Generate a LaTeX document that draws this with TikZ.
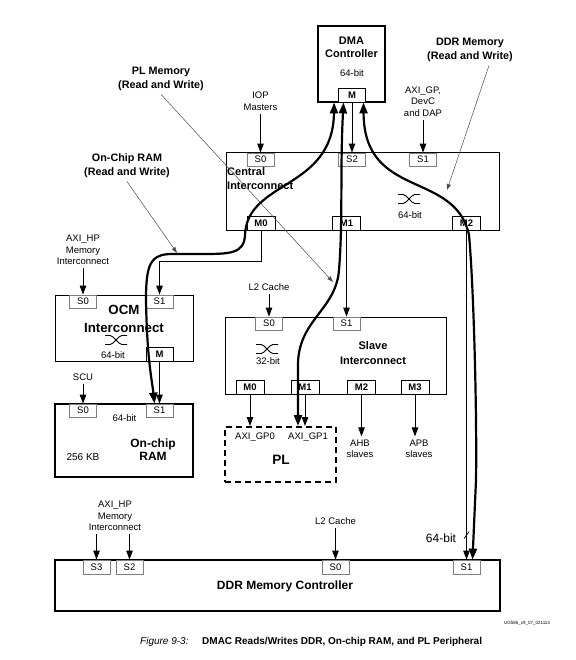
\documentclass[tikz,border=0pt]{standalone}
\usepackage{fontspec}
\setmainfont{Liberation Sans}
\usepackage{tikz}
\usetikzlibrary{positioning, arrows.meta, shapes, calc}

\tikzset{crossbar/.pic={
    \draw[line width=0.9pt] (-11,-4.5) -- (-6,-4.5) .. controls (-2,-4.5) and (2,4.5) .. (6,4.5) -- (11,4.5)
        (-11,4.5) -- (-6,4.5) .. controls (-2,4.5) and (2,-4.5) .. (6,-4.5) -- (11,-4.5);
}}

\begin{document}
\begin{tikzpicture}[x=1pt, y=-1pt, font=\fontsize{9.5}{11.5}\selectfont]
    \useasboundingbox (0,0) rectangle (575,660);
    % Define styles
    \tikzstyle{block} = [rectangle, draw, line width=1pt, inner sep=0pt]
    \tikzstyle{mainblock} = [block, line width=2pt]
    \tikzstyle{sport} = [rectangle, draw=gray, fill=white, line width=0.8pt, minimum width=27pt, minimum height=13pt, inner sep=0pt]
    \tikzstyle{mport} = [sport, draw=black, minimum height=14pt, font=\bfseries\fontsize{9.5}{11}\selectfont]
    \tikzstyle{note} = [align=center]
    \tikzstyle{heading} = [align=center, font=\bfseries\fontsize{11}{14}\selectfont]
    \tikzstyle{arrow} = [line width=0.9pt, -{Triangle[length=9pt,width=6.5pt]}]
    \tikzstyle{dmaline} = [line width=2.2pt, {Triangle[length=11pt,width=8pt]}-{Triangle[length=11pt,width=8pt]}]
    \tikzstyle{leader} = [line width=0.5pt, black!70, -{Triangle[length=6pt,width=4pt]}]

    % Blocks
    \node [mainblock, minimum width=67pt, minimum height=76pt] (dma) at (351.5,64) {};
    \node [block, minimum width=273pt, minimum height=77pt] (ci) at (362.5,191.5) {};
    \node [block, minimum width=138pt, minimum height=66pt] (ocm) at (124,328) {};
    \node [mainblock, minimum width=138pt, minimum height=73pt] (ram) at (124,440.5) {};
    \node [block, minimum width=221pt, minimum height=77pt] (slave) at (335.5,355.5) {};
    \node [mainblock, dash pattern=on 6pt off 4pt, minimum width=111pt, minimum height=55pt] (pl) at (280.5,454.5) {};
    \node [mainblock, minimum width=445pt, minimum height=51pt] (ddr) at (277.5,585.5) {};

    % Ports
    \node [mport] (dmam) at (352,95) {M};
    \node [sport] (cis0) at (260.5,159.5) {S0};
    \node [sport] (cis2) at (352,159.5) {S2};
    \node [sport] (cis1) at (423,159.5) {S1};
    \node [mport, minimum width=28pt] (cim0) at (261,223) {M0};
    \node [mport, minimum width=28pt] (cim1) at (346.5,223) {M1};
    \node [mport, minimum width=28pt] (cim2) at (466.5,223) {M2};
    \node [sport] (ocms0) at (83,301.5) {S0};
    \node [sport] (ocms1) at (159.5,301.5) {S1};
    \node [mport] (ocmm) at (159.5,354) {M};
    \node [sport] (rams0) at (83,410.5) {S0};
    \node [sport] (rams1) at (159.5,410.5) {S1};
    \node [sport] (sls0) at (269,323.5) {S0};
    \node [sport] (sls1) at (346.5,323.5) {S1};
    \node [mport, minimum width=28pt] (slm0) at (250,387) {M0};
    \node [mport, minimum width=28pt] (slm1) at (305,387) {M1};
    \node [mport, minimum width=28pt] (slm2) at (361.5,387) {M2};
    \node [mport, minimum width=28pt] (slm3) at (415,387) {M3};
    \node [sport, minimum height=14pt] (ddrs3) at (96.5,567) {S3};
    \node [sport, minimum height=14pt] (ddrs2) at (129.5,567) {S2};
    \node [sport, minimum height=14pt] (ddrs0) at (335.5,567) {S0};
    \node [sport, minimum height=14pt] (ddrs1) at (466.5,567) {S1};

    % Texts in blocks
    \node [heading, font=\bfseries\fontsize{11}{13}\selectfont] (dmatext) at (351.5,47) {DMA\\Controller};
    \node (dmabits) at (352,73) {64-bit};
    \node [heading, align=left, anchor=west, inner sep=0pt] (citext) at (227,179) {Central\\Interconnect};
    \node (cibits) at (410,215) {64-bit};
    \node [heading, font=\bfseries\fontsize{13.3}{18}\selectfont] (ocmtext) at (124,319) {OCM\\Interconnect};
    \node (ocmbits) at (113,355) {64-bit};
    \node (rambits) at (124.5,418) {64-bit};
    \node [heading, font=\bfseries\fontsize{12}{13}\selectfont] (ramtext) at (153,450) {On-chip\\RAM};
    \node [font=\fontsize{10}{12}\selectfont] (ramsize) at (83,457) {256 KB};
    \node [heading, font=\bfseries\fontsize{11}{15}\selectfont] (sltext) at (373,353.5) {Slave\\Interconnect};
    \node (slbits) at (268,361) {32-bit};
    \node (gp0) at (255,437) {AXI\_GP0};
    \node (gp1) at (308,437) {AXI\_GP1};
    \node [font=\bfseries\fontsize{13.6}{16}\selectfont] (pltext) at (281,460) {PL};
    \node [font=\bfseries\fontsize{12}{14}\selectfont] (ddrtext) at (285,586) {DDR Memory Controller};
    \pic at (409,199) {crossbar};
    \pic at (116,340) {crossbar};
    \pic at (267,349) {crossbar};

    % Outside labels
    \node [note] (iop) at (260.5,101) {IOP\\Masters};
    \node [note] (axigp) at (423,101.5) {AXI\_GP,\\DevC\\and DAP};
    \node [note] (hpocm) at (83,250) {AXI\_HP\\Memory\\Interconnect};
    \node [note] (scu) at (83,377) {SCU};
    \node [note] (l2sl) at (269,287) {L2 Cache};
    \node [note] (ahb) at (360,449) {AHB\\slaves};
    \node [note] (apb) at (419,449) {APB\\slaves};
    \node [note] (hpddr) at (115,516) {AXI\_HP\\Memory\\Interconnect};
    \node [note] (l2ddr) at (335.5,521) {L2 Cache};
    \node [font=\fontsize{12}{14}\selectfont] (ddrbits) at (441,538) {64-bit};
    \node [heading, font=\bfseries\fontsize{10.8}{14}\selectfont] (plmem) at (161,79) {PL Memory\\(Read and Write)};
    \node [heading, font=\bfseries\fontsize{10.8}{14}\selectfont] (ocmem) at (127,166) {On-Chip RAM\\(Read and Write)};
    \node [heading, font=\bfseries\fontsize{10.8}{14}\selectfont] (ddrmem) at (470,50) {DDR Memory\\(Read and Write)};
    \coordinate (plmemtip) at (333,282);
    \coordinate (ocmemtip) at (177,253);
    \coordinate (ddrmemtip) at (447,190);

    % Caption
    \node [anchor=west, inner sep=0pt, font=\fontsize{10}{12}\selectfont\itshape] (figno) at (140,642) {Figure 9-3:};
    \node [anchor=west, inner sep=0pt, font=\fontsize{10}{12}\selectfont\bfseries] (caption) at (202,642) {DMAC Reads/Writes DDR, On-chip RAM, and PL Peripheral};
    \node [font=\fontsize{4.5}{5}\selectfont] (figid) at (527,623) {UG585\_c9\_07\_021113};

    % Arrows
    \draw [arrow] (dmam) -- (cis2);
    \draw [arrow] (iop) -- (cis0);
    \draw [arrow] (axigp) -- (cis1);
    \draw [arrow] (hpocm) -- (ocms0);
    \draw [arrow] (scu) -- (rams0);
    \draw [arrow] (ocmm) -- (rams1);
    \draw [arrow] (cim0.south) -- ++(0,31) -| (ocms1.north);
    \draw [arrow] (cim1) -- (sls1);
    \draw [arrow] (l2sl) -- (sls0);
    \draw [arrow] (slm0.south) -- (slm0.south |- pl.north);
    \draw [arrow] (slm1.south) -- (slm1.south |- pl.north);
    \draw [arrow] (slm2.south) -- (slm2.south |- ahb.north);
    \draw [arrow] (slm3.south) -- (slm3.south |- apb.north);
    \draw [arrow] (ddrs3 |- hpddr.south) -- (ddrs3);
    \draw [arrow] (ddrs2 |- hpddr.south) -- (ddrs2);
    \draw [arrow] (l2ddr) -- (ddrs0);
    \draw [arrow] (cim2) -- (ddrs1);
    \draw [line width=0.7pt] ($(ddrs1.north)+(-2.5,-21)$) -- ++(5,-7);
    \draw [leader] (plmem.south) -- (plmemtip);
    \draw [leader] (ocmem.south) -- (ocmemtip);
    \draw [leader] ($(ddrmem.south)+(19,0)$) -- (ddrmemtip);

    % DMA paths
    \draw [dmaline] ([xshift=-4pt]dmam.south west) .. controls (333,190) and (247,180) .. (245,235)
        .. controls (244,254) and (230,254) .. (200,254) -- (172,254)
        .. controls (150,254) and (146,265) .. (146,300)
        .. controls (147,360) and (152,380) .. ([xshift=-5pt]rams1.north);
    \draw [dmaline] ([xshift=-8.5pt]dmam.south) .. controls (340,170) and (343,220) .. (339,270)
        .. controls (336,310) and (298,320) .. (298,365) -- ($(slm1.south |- pl.north)+(-7,0)$);
    \draw [dmaline] ([xshift=11.5pt]dmam.south) .. controls (364,200) and (455,170) .. (469,235)
        .. controls (474,290) and (477,420) .. (476,480) -- ($(ddrs1.north)+(6,0)$);
\end{tikzpicture}
\end{document}
